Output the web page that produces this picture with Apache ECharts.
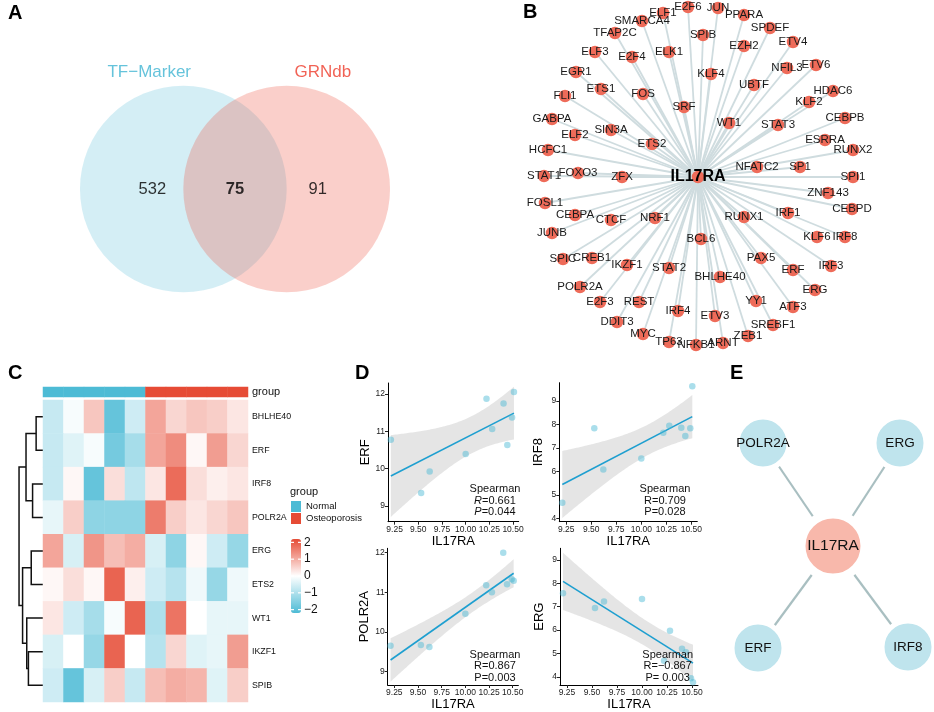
<!DOCTYPE html>
<html><head><meta charset="utf-8">
<script src="https://cdn.jsdelivr.net/npm/echarts@6/dist/echarts.min.js"></script>
<style>html,body{margin:0;padding:0;background:#fff}#c{width:934px;height:712px}</style>
</head><body><div id="c"></div>
<script>
// ===== Panel A: Venn =====
const vennSets = ['TF\u2212Marker', 'GRNdb'];
const vennCounts = [532, 75, 91]; // TF-Marker only, both, GRNdb only

// ===== Panel B: IL17RA regulatory network (layout coordinates) =====
const hubGene = 'IL17RA';
const hubLayoutPos = [698, 177];
const tfNodes = [
 ['SMARCA4',642,21],['TFAP2C',615,33],['ELF3',595,52],['E2F4',632,57],['EGR1',576,72],['ETS1',601,89],['FLI1',565,96],
 ['GABPA',552,119],['SIN3A',611,130],['ELF2',575,135],['HCFC1',548,150],['STAT1',544,176],['FOXO3',578,173],['ZFX',622,177],
 ['ELF1',663,13],['E2F6',688,7],['JUN',718,8],['PPARA',744,15],['SPDEF',770,28],['SPIB',703,35],['ETV4',793,42],['EZH2',744,46],
 ['ELK1',669,52],['ETV6',816,65],['NFIL3',787,68],['KLF4',711,74],['UBTF',754,85],['HDAC6',833,91],['FOS',643,94],['KLF2',809,102],
 ['SRF',684,107],['CEBPB',845,118],['WT1',729,123],['STAT3',778,125],['ESRRA',825,140],['ETS2',652,144],['RUNX2',853,150],
 ['NFATC2',757,167],['SP1',800,167],['SPI1',853,177],
 ['ZNF143',828,193],['CEBPD',852,209],['IRF1',788,213],['RUNX1',744,217],['NRF1',655,218],['KLF6',817,237],['IRF8',845,237],
 ['BCL6',701,239],['PAX5',761,258],['IKZF1',627,265],['IRF3',831,266],['ERF',793,270],['STAT2',669,268],['BHLHE40',720,277],
 ['ERG',815,290],['REST',639,302],['YY1',756,301],['ATF3',793,307],['IRF4',678,311],['ETV3',715,316],['SREBF1',773,325],
 ['ZEB1',748,336],['MYC',643,334],['TP63',669,342],['NFKB1',696,345],['ARNT',723,343],
 ['FOSL1',545,203],['CEBPA',575,215],['CTCF',611,220],['JUNB',552,233],['SPIC',563,259],['CREB1',592,258],['POLR2A',580,287],
 ['E2F3',600,302],['DDIT3',617,322]
];

// ===== Panel C: heatmap =====
const heatGenes = ['BHLHE40','ERF','IRF8','POLR2A','ERG','ETS2','WT1','IKZF1','SPIB'];
const groupNames = ['Normal','Osteoporosis'];
const sampleGroups = ['Normal','Normal','Normal','Normal','Normal','Osteoporosis','Osteoporosis','Osteoporosis','Osteoporosis','Osteoporosis'];
const heatValues = [
 [-0.7,-0.1, 0.7,-1.9,-0.6, 1.1, 0.5, 0.7, 0.6, 0.3],
 [-0.7,-0.4,-0.1,-1.7,-1.1, 1.1, 1.4, 0.1, 1.2, 0.5],
 [-0.7, 0.1,-1.9, 0.4,-0.8, 0.3, 1.8, 0.4, 0.2, 0.3],
 [-0.3, 0.6,-1.4,-1.4,-1.4, 1.6, 0.6, 0.3, 0.5, 0.7],
 [ 1.1,-0.5, 1.3, 0.8, 1.0,-0.5,-1.4, 0.1,-0.6,-1.3],
 [ 0.1, 0.4, 0.1, 1.9, 0.2,-0.6,-0.9,-0.2,-1.3,-0.2],
 [ 0.3,-0.6,-1.1,-0.1, 1.9,-1.0, 1.7, 0.0,-0.3,-0.3],
 [-0.5, 0.0,-1.3, 1.9, 0.0,-0.9, 0.5,-0.4,-0.3, 1.2],
 [-0.6,-1.9,-0.5, 0.6,-0.7, 0.8, 1.0, 0.9,-0.4, 0.6]
];
// hierarchical clustering merges: [childA, childB, height]; leaves 0..8, new clusters 9..
const dendroMerges = [[0,1,6.6],[2,3,10],[9,10,16.3],[4,5,11.3],[7,8,14],[6,13,15.6],[12,14,19.6],[11,15,23]];
const legendTicks = [2,1,0,-1,-2];

// ===== Panel D: correlations =====
const il17ra = [9.21,9.53,9.62,10.00,10.22,10.28,10.40,10.44,10.49,10.51];
const erfExpr = [10.77,9.35,9.92,10.39,11.87,11.06,11.74,10.63,11.37,12.05];
const irf8Expr = [4.67,7.83,6.08,6.55,7.64,7.94,7.85,7.50,7.83,9.62];
const polr2aExpr = [9.65,9.67,9.62,10.46,11.18,11.00,12.00,11.20,11.33,11.29];
const ergExpr = [7.58,6.94,7.22,7.33,4.69,5.97,5.20,5.05,3.94,3.77];
const corrGenes = ['ERF','IRF8','POLR2A','ERG'];
const corrR = ['0.661','0.709','0.867','\u22120.867'];
const corrP = ['0.044','0.028','0.003',' 0.003'];
const xTickVals = [9.25,9.50,9.75,10.00,10.25,10.50];
const yTickSets = [[9,10,11,12],[4,5,6,7,8,9],[9,10,11,12],[4,5,6,7,8,9]];

// ===== Panel E: key TF network (layout coordinates) =====
const keyTFs = ['POLR2A','ERG','ERF','IRF8'];
const keyLayout = [['IL17RA',833,546],['POLR2A',763,443],['ERG',900,443],['ERF',758,648],['IRF8',908,647]];

// ------------------------------------------------------------------
const FONT = '"Liberation Sans", Arial, sans-serif';
const BLUE = '#4DBBD5', RED = '#E64B35';
const series = [], grid = [], xAxis = [], yAxis = [], visualMap = [], graphic = [];

// ---------- A: Venn ----------
grid.push({left:80, top:50, width:310, height:278});
xAxis.push({gridIndex:0, type:'value', min:-1.5, max:1.5, show:false});
yAxis.push({gridIndex:0, type:'value', min:-1.35, max:1.35, show:false});
const vennFill = ['rgba(77,187,213,0.30)','rgba(238,90,74,0.36)'];
const vennText = ['#3FB4D2', '#EE3B2B'];
series.push({type:'scatter', xAxisIndex:0, yAxisIndex:0, silent:true, z:1, symbolSize:206.7,
  data: vennSets.map((s,i)=>({name:s, value:[i-0.5,0], itemStyle:{color:vennFill[i]}}))});
series.push({type:'scatter', xAxisIndex:0, yAxisIndex:0, silent:true, z:3, symbolSize:1,
  itemStyle:{color:'rgba(0,0,0,0)'},
  label:{show:true, position:'inside', fontSize:16.5, fontFamily:FONT, color:'#000', formatter:p=>p.data.value[2]},
  data: vennCounts.map((c,i)=>({value:[(i-1)*0.8,0,c], label: i===1?{fontWeight:'bold'}:{}}))});
series.push({type:'scatter', xAxisIndex:0, yAxisIndex:0, silent:true, z:3, symbolSize:1,
  itemStyle:{color:'rgba(0,0,0,0)'},
  label:{show:true, position:'inside', fontSize:17, fontFamily:FONT, formatter:p=>p.name},
  data: vennSets.map((s,i)=>({name:s, value:[i===0?-0.83:0.85,1.135], label:{color:vennText[i]}}))});

// ---------- C: dendrogram ----------
grid.push({left:18, top:400, width:25, height:302});
xAxis.push({gridIndex:1, type:'value', min:0, max:24, inverse:true, show:false});
yAxis.push({gridIndex:1, type:'value', min:-0.5, max:8.5, inverse:true, show:false});
const dNodes = heatGenes.map((g,i)=>({y:i, h:0}));
const dSegs = [];
dendroMerges.forEach(m=>{
  const a = dNodes[m[0]], b = dNodes[m[1]], h = m[2];
  dSegs.push({coords:[[a.h,a.y],[h,a.y],[h,b.y],[b.h,b.y]]});
  dNodes.push({y:(a.y+b.y)/2, h:h});
});
series.push({type:'lines', coordinateSystem:'cartesian2d', xAxisIndex:1, yAxisIndex:1, polyline:true, silent:true,
  lineStyle:{color:'#111', width:1.5, opacity:1}, data:dSegs});

// ---------- C: group bar ----------
grid.push({left:43, top:387, width:205, height:10});
xAxis.push({gridIndex:2, type:'category', data:sampleGroups.map((g,i)=>'S'+i), show:false});
yAxis.push({gridIndex:2, type:'category', data:['group'], position:'right',
  axisLine:{show:false}, axisTick:{show:false}, axisLabel:{fontSize:11, fontFamily:FONT, color:'#111', margin:4}});
const groupSeriesIdx = series.length;
series.push({type:'heatmap', xAxisIndex:2, yAxisIndex:2, silent:true,
  data: sampleGroups.map((g,i)=>[i,0,groupNames.indexOf(g)])});

// ---------- C: heatmap ----------
grid.push({left:43, top:400, width:205, height:302});
xAxis.push({gridIndex:3, type:'category', data:sampleGroups.map((g,i)=>'S'+i), show:false});
yAxis.push({gridIndex:3, type:'category', data:heatGenes, inverse:true, position:'right',
  axisLine:{show:false}, axisTick:{show:false}, axisLabel:{fontSize:8.8, fontFamily:FONT, color:'#111', margin:4}});
const heatSeriesIdx = series.length;
const heatData = [];
heatValues.forEach((row,r)=>row.forEach((v,c)=>heatData.push([c,r,v])));
series.push({type:'heatmap', xAxisIndex:3, yAxisIndex:3, silent:true, data:heatData});

const cbMin = -2.2, cbMax = 2.2, cbTop = 539, cbH = 74, cbLeft = 291;
visualMap.push({type:'continuous', seriesIndex:heatSeriesIdx, min:cbMin, max:cbMax, calculable:false, show:true,
  left:cbLeft, top:cbTop, itemWidth:10, itemHeight:cbH, padding:0, text:null, hoverLink:false,
  inRange:{color:[BLUE,'#FFFFFF',RED]}});
visualMap.push({type:'piecewise', seriesIndex:groupSeriesIdx, dimension:2, show:true, inverse:true,
  left:291, top:501, padding:0, itemWidth:10, itemHeight:11, itemGap:1, textGap:5, itemSymbol:'rect', hoverLink:false,
  selectedMode:false,
  textStyle:{fontSize:9.5, fontFamily:FONT, color:'#111'},
  pieces: groupNames.map((g,i)=>({value:i, label:g, color:i===0?BLUE:RED}))});
graphic.push({type:'text', x:290, y:492, style:{text:'group', fontSize:11, fontFamily:FONT, fill:'#111', verticalAlign:'middle'}});
legendTicks.forEach(v=>{
  const y = cbTop + (cbMax - v)/(cbMax - cbMin)*cbH;
  graphic.push({type:'text', x:304, y:y, style:{text:(v<0?'\u2212'+(-v):String(v)), fontSize:12, fontFamily:FONT, fill:'#111', verticalAlign:'middle'}});
  graphic.push({type:'line', shape:{x1:cbLeft, y1:y, x2:cbLeft+3, y2:y}, style:{stroke:'#fff', lineWidth:1.2}, z:100});
  graphic.push({type:'line', shape:{x1:cbLeft+7, y1:y, x2:cbLeft+10, y2:y}, style:{stroke:'#fff', lineWidth:1.2}, z:100});
});

// ---------- D: scatter plots ----------
function linFit(x, y){
  const n = x.length;
  const mx = x.reduce((s,v)=>s+v,0)/n, my = y.reduce((s,v)=>s+v,0)/n;
  let sxx=0, sxy=0;
  for(let i=0;i<n;i++){ sxx += (x[i]-mx)**2; sxy += (x[i]-mx)*(y[i]-my); }
  const b = sxy/sxx, a = my - b*mx;
  let sse = 0; for(let i=0;i<n;i++) sse += (y[i]-a-b*x[i])**2;
  const s = Math.sqrt(sse/(n-2)), t = 2.306; // t(0.975, df = 8)
  const xmin = Math.min(...x), xmax = Math.max(...x), pts = [];
  for(let k=0;k<=80;k++){
    const xv = xmin + (xmax-xmin)*k/80, yv = a + b*xv;
    const se = s*Math.sqrt(1/n + (xv-mx)**2/sxx);
    pts.push([xv, yv-t*se, yv+t*se]);
  }
  return {a, b, xmin, xmax, pts};
}
const exprSets = [erfExpr, irf8Expr, polr2aExpr, ergExpr];
const panelGrids = [
  {left:388, top:383, width:130.7, height:138.7},
  {left:559.3, top:382.7, width:138, height:139},
  {left:387.7, top:548.3, width:130.7, height:136.7},
  {left:560, top:548.3, width:138, height:136.7}
];
const panelY = [[8.58,12.29],[3.86,9.77],[8.66,12.11],[3.65,9.5]];
exprSets.forEach((ys,k)=>{
  const gi = 4+k;
  grid.push(panelGrids[k]);
  const axCommon = {axisLine:{show:true, onZero:false, lineStyle:{color:'#000', width:1}},
    splitLine:{show:false}};
  xAxis.push(Object.assign({gridIndex:gi, type:'value', min:9.18, max:10.56,
    axisTick:{show:true, length:3, customValues:xTickVals, lineStyle:{color:'#222'}},
    axisLabel:{customValues:xTickVals, formatter:v=>v.toFixed(2), fontSize:8.5, color:'#222', margin:3, fontFamily:FONT},
    name:'IL17RA', nameLocation:'middle', nameGap:11, nameTextStyle:{fontSize:13, color:'#000', fontFamily:FONT, verticalAlign:'top'}}, axCommon));
  yAxis.push(Object.assign({gridIndex:gi, type:'value', min:panelY[k][0], max:panelY[k][1],
    axisTick:{show:true, length:3, customValues:yTickSets[k], lineStyle:{color:'#222'}},
    axisLabel:{customValues:yTickSets[k], fontSize:8.5, color:'#222', margin:3, fontFamily:FONT},
    name:corrGenes[k], nameLocation:'middle', nameGap:14, nameTextStyle:{fontSize:13, color:'#000', fontFamily:FONT}}, axCommon));
  const f = linFit(il17ra, ys);
  series.push({type:'custom', xAxisIndex:gi, yAxisIndex:gi, silent:true, z:1,
    data:[[f.xmin, f.a + f.b*f.xmin]],
    renderItem:(params, api)=>{
      const up = f.pts.map(p=>api.coord([p[0],p[2]]));
      const lo = f.pts.map(p=>api.coord([p[0],p[1]])).reverse();
      return {type:'polygon', shape:{points:up.concat(lo)}, style:{fill:'rgba(150,150,150,0.25)'}};
    }});
  series.push({type:'line', xAxisIndex:gi, yAxisIndex:gi, silent:true, z:2, showSymbol:false,
    lineStyle:{color:'#1E9FD0', width:1.6},
    data:[[f.xmin, f.a + f.b*f.xmin],[f.xmax, f.a + f.b*f.xmax]]});
  series.push({type:'scatter', xAxisIndex:gi, yAxisIndex:gi, silent:true, z:3, symbolSize:6.5,
    itemStyle:{color:'rgba(77,187,213,0.6)'},
    data: il17ra.map((x,i)=>[x, ys[i]])});
});
const annoPos = [[495,500.5],[665,500.5],[495,666],[667.7,666]];
corrGenes.forEach((g,k)=>{
  const italic = k===0;
  const txt = italic ? 'Spearman\n{i|R}=' + corrR[k] + '\n{i|P}=' + corrP[k]
                     : 'Spearman\nR=' + corrR[k] + '\nP=' + corrP[k];
  graphic.push({type:'text', x:annoPos[k][0], y:annoPos[k][1], z:50,
    style:{text:txt, fontSize:11, lineHeight:11.5, fontFamily:FONT, fill:'#111', align:'center', verticalAlign:'middle',
      rich:{i:{fontStyle:'italic', fontSize:11, lineHeight:11.5, fontFamily:FONT, fill:'#111'}}}});
});

// ---------- B: network ----------
const bNodes = [{name:hubGene, x:hubLayoutPos[0], y:hubLayoutPos[1], label:{fontSize:16, fontWeight:'bold', color:'#000'}}]
  .concat(tfNodes.map(n=>({name:n[0], x:n[1], y:n[2]})));
const bx = bNodes.map(n=>n.x), by = bNodes.map(n=>n.y);
const bMinX = Math.min(...bx), bMinY = Math.min(...by);
series.push({type:'graph', layout:'none', roam:false, silent:true,
  left:bMinX, top:bMinY, width:Math.max(...bx)-bMinX, height:Math.max(...by)-bMinY,
  symbolSize:12.5, itemStyle:{color:'#EE6B59'},
  label:{show:true, position:'inside', fontSize:11.5, fontFamily:FONT, color:'#1a1a1a'},
  lineStyle:{color:'#CFDCDF', width:1.8, opacity:1, curveness:0},
  emphasis:{disabled:true},
  data:bNodes, links:tfNodes.map(n=>({source:hubGene, target:n[0]}))});

// ---------- E: key network ----------
const ex = keyLayout.map(n=>n[1]), ey = keyLayout.map(n=>n[2]);
const eMinX = Math.min(...ex), eMinY = Math.min(...ey);
series.push({type:'graph', layout:'none', roam:false, silent:true,
  left:eMinX, top:eMinY, width:Math.max(...ex)-eMinX, height:Math.max(...ey)-eMinY,
  emphasis:{disabled:true},
  lineStyle:{color:'#A9BFC1', width:2.2, opacity:1},
  label:{show:true, position:'inside', fontFamily:FONT, color:'#111'},
  data: keyLayout.map(n=>n[0]===hubGene
    ? {name:n[0], x:n[1], y:n[2], symbolSize:63.5, itemStyle:{color:'#F8B8AB', borderColor:'#fff', borderWidth:8.5}, label:{fontSize:15.5}}
    : {name:n[0], x:n[1], y:n[2], symbolSize:52, itemStyle:{color:'#BFE4ED', borderColor:'#fff', borderWidth:5}, label:{fontSize:13.5}}),
  links: keyTFs.map(g=>({source:hubGene, target:g}))});

// ---------- panel letters ----------
[['A',8,13],['B',523,12],['C',8,373],['D',355,373],['E',730,373]].forEach(l=>{
  graphic.push({type:'text', x:l[1], y:l[2], style:{text:l[0], fontSize:20, fontWeight:'bold', fontFamily:FONT, fill:'#000', verticalAlign:'middle'}});
});

const chart = echarts.init(document.getElementById('c'), null, {renderer:'canvas', width:934, height:712});
chart.setOption({
  animation:false, backgroundColor:'#fff',
  textStyle:{fontFamily:FONT},
  grid, xAxis, yAxis, visualMap, series, graphic
});
</script></body></html>
